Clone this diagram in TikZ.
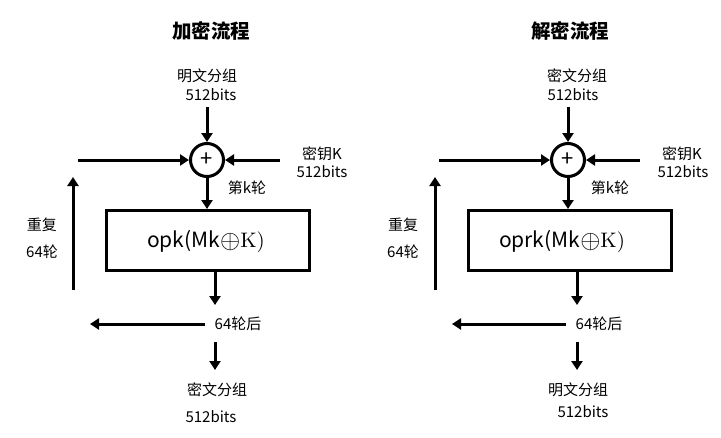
\documentclass[tikz,border=0pt]{standalone}
\usepackage{fontspec}
\usepackage{graphicx}
\setmainfont{Noto Sans CJK SC}
\newfontfamily\lmfont[Extension=.otf]{lmroman10-regular}
\usetikzlibrary{arrows.meta}
\newcommand{\bigxor}{\raisebox{-0.5pt}{\scalebox{1.25}{$\oplus$}}}
\tikzset{
 conn/.style={line width=3pt, -{Triangle[length=9pt,width=11pt]}},
 lbl/.style={font=\fontsize{15}{17}\selectfont, inner sep=0pt},
 ttl/.style={font=\bfseries\fontsize{19.5}{22}\selectfont, inner sep=0pt},
 xorc/.style={circle, draw, line width=3pt, minimum size=33pt, inner sep=0pt, font=\fontsize{22}{22}\selectfont},
 opbox/.style={draw, line width=3pt, minimum width=203pt, minimum height=60pt, inner sep=0pt},
 boxtxt/.style={font=\fontsize{21}{24}\selectfont, inner sep=0pt},
}
\begin{document}
\begin{tikzpicture}[x=1pt,y=-1pt]
\useasboundingbox[fill=white] (0,0) rectangle (721,437);
% ---------- encryption ----------
\node[ttl] (t1) at (211,31) {加密流程};
\node[lbl] (in1a) at (207,76) {明文分组};
\node[lbl] (in1b) at (211,95) {512bits};
\node[xorc] (x1) at (207,160) {+};
\coordinate (in1) at (207,107);
\draw[conn] (in1) -- (x1);
\coordinate (fb1) at (78,160);
\draw[conn] (fb1) -- (x1);
\node[lbl] (k1a) at (322,154) {密钥K};
\node[lbl] (k1b) at (322,172) {512bits};
\coordinate (k1) at (280,160);
\draw[conn] (k1) -- (x1);
\node[opbox] (b1) at (208,240.5) {};
\node[boxtxt] (bt1) at (206,242) {opk(Mk\bigxor\lmfont K)};
\draw[conn] (x1.south) -- (x1.south |- b1.north);
\node[lbl] (r1) at (247,188) {第k轮};
\coordinate (up1a) at (73,290);
\coordinate (up1b) at (73,177);
\draw[conn] (up1a) -- (up1b);
\node[lbl] (rep1a) at (42,225) {重复};
\node[lbl] (rep1b) at (42,252) {64轮};
\coordinate (d1) at (215,305);
\draw[conn] (b1.south -| d1) -- (d1);
\node[lbl] (a1) at (238,324) {64轮后};
\coordinate (l1) at (90,324);
\draw[conn] ([xshift=-9pt]a1.west) -- (l1);
\coordinate (e1a) at (215,342);
\coordinate (e1b) at (215,370);
\draw[conn] (e1a) -- (e1b);
\node[lbl] (out1a) at (217,390) {密文分组};
\node[lbl] (out1b) at (211,417) {512bits};
% ---------- decryption ----------
\node[ttl] (t2) at (570,31) {解密流程};
\node[lbl] (in2a) at (577,76) {密文分组};
\node[lbl] (in2b) at (573,95) {512bits};
\node[xorc] (x2) at (568,160) {+};
\coordinate (in2) at (568,107);
\draw[conn] (in2) -- (x2);
\coordinate (fb2) at (439,160);
\draw[conn] (fb2) -- (x2);
\node[lbl] (k2a) at (682,154) {密钥K};
\node[lbl] (k2b) at (683,172) {512bits};
\coordinate (k2) at (640,160);
\draw[conn] (k2) -- (x2);
\node[opbox] (b2) at (569.5,240.5) {};
\node[boxtxt] (bt2) at (562,242) {oprk(Mk\bigxor\lmfont K)};
\draw[conn] (x2.south) -- (x2.south |- b2.north);
\node[lbl] (r2) at (610,188) {第k轮};
\coordinate (up2a) at (435,290);
\coordinate (up2b) at (435,177);
\draw[conn] (up2a) -- (up2b);
\node[lbl] (rep2a) at (403,225) {重复};
\node[lbl] (rep2b) at (403,252) {64轮};
\coordinate (d2) at (577,305);
\draw[conn] (b2.south -| d2) -- (d2);
\node[lbl] (a2) at (599,324) {64轮后};
\coordinate (l2) at (452,324);
\draw[conn] ([xshift=-9pt]a2.west) -- (l2);
\coordinate (e2a) at (577,342);
\coordinate (e2b) at (577,370);
\draw[conn] (e2a) -- (e2b);
\node[lbl] (out2a) at (578,390) {明文分组};
\node[lbl] (out2b) at (583,412) {512bits};
\end{tikzpicture}
\end{document}
